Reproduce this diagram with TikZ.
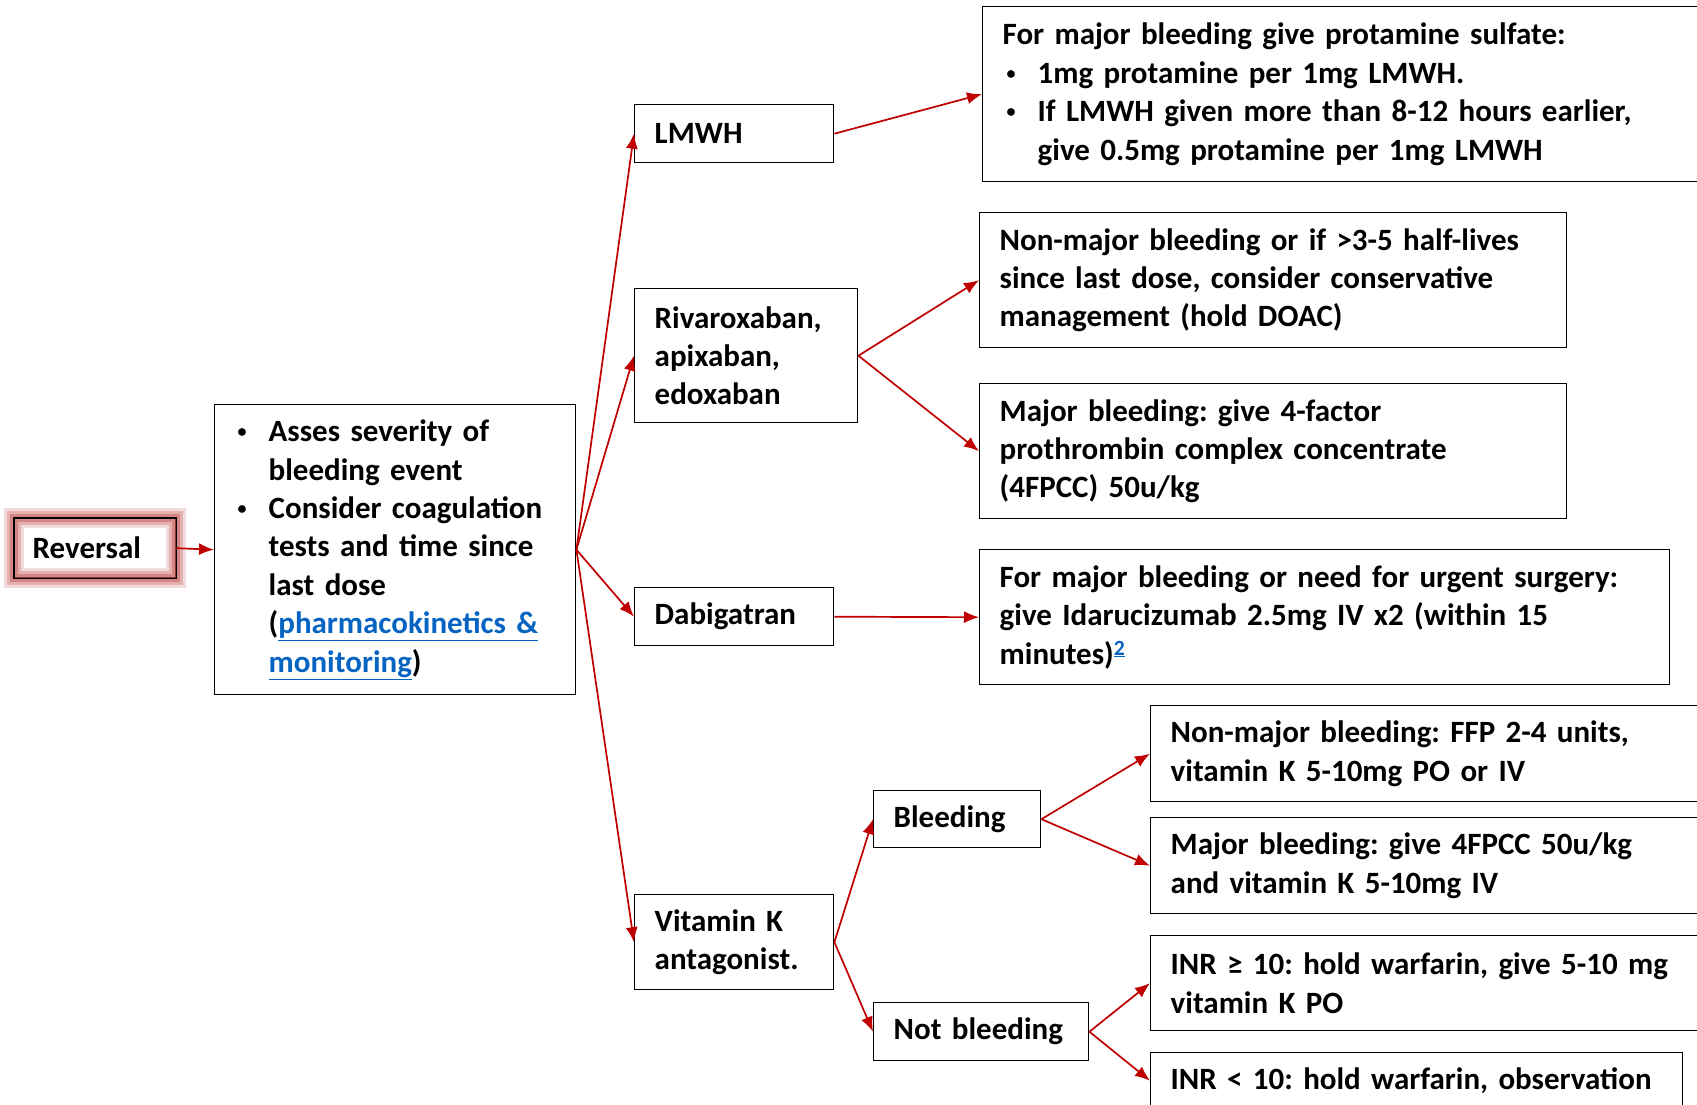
\documentclass[tikz,border=0pt]{standalone}
\usepackage{fontspec}
\setmainfont{Carlito}
\usetikzlibrary{positioning}
\usetikzlibrary{arrows.meta}
\usepackage{xcolor}
\definecolor{arrowred}{HTML}{C00000}
\definecolor{linkblue}{HTML}{0563C1}
\definecolor{glowred}{HTML}{C0504D}
\newcommand{\bul}[1][4pt]{\hspace*{#1}\makebox[31pt][l]{\raisebox{4pt}{\fontsize{18}{18}\selectfont\textbullet}}}
\newcommand{\ind}[1][35pt]{\hspace*{#1}}
\newcommand{\lnk}[1]{\textcolor{linkblue}{\underline{#1}}}

\begin{document}
\frenchspacing
\hyphenpenalty=10000
\exhyphenpenalty=10000
\begin{tikzpicture}[x=1pt, y=-1pt,
  box/.style={draw=black, line width=1.4pt, anchor=north west, align=left,
    inner xsep=20pt, inner ysep=0pt, font=\fontsize{31}{38.4}\selectfont\bfseries},
  arr/.style={draw=arrowred, line width=1.7pt, -{Latex[length=15pt,width=12pt]}}]

\clip (0,0) rectangle (1697,1105);

% first column
\node[box, inner xsep=18pt, text width=125pt, minimum height=59pt] (rev) at (14,518) {Reversal};
\foreach \w/\o in {20pt/0.2, 14pt/0.3, 8pt/0.45}
  \draw[glowred, line width=\w, opacity=\o] (rev.north west) rectangle (rev.south east);
\draw[black, line width=1.4pt] (rev.north west) rectangle (rev.south east);

\node[box, inner xsep=8pt, text width=345pt, minimum height=290pt] (asses) at (214,404)
  {\bul[15pt]Asses severity of\\ \ind[46pt]bleeding event\\
   \bul[15pt]Consider coagulation\\ \ind[46pt]tests and time since\\
   \ind[46pt]last dose\\ \ind[46pt](\lnk{pharmacokinetics \&}\\
   \ind[46pt]\lnk{monitoring})};

% drugs
\node[box, text width=159pt, minimum height=58pt] (lmwh) at (634,104) {LMWH};
\node[box, text width=183pt, minimum height=134pt] (riva) at (634,288)
  {Rivaroxaban,\\ apixaban,\\ edoxaban};
\node[box, text width=159pt, minimum height=58pt] (dabi) at (634,587) {Dabigatran};
\node[box, text width=159pt, minimum height=95pt] (vka) at (634,894)
  {Vitamin K\\ antagonist.};

\node[box, text width=127pt, minimum height=57pt] (bleed) at (873,790) {Bleeding};
\node[box, text width=175pt, minimum height=58pt] (notb) at (873,1002) {Not bleeding};

% actions
\node[box, text width=700pt, minimum height=175pt] (prot) at (982,6)
  {For major bleeding give protamine sulfate:\\
   \bul 1mg protamine per 1mg LMWH.\\
   \bul If LMWH given more than 8-12 hours earlier,\\
   \ind give 0.5mg protamine per 1mg LMWH};
\node[box, text width=547pt, minimum height=135pt] (doac) at (979,212)
  {Non-major bleeding or if >3-5 half-lives\\ since last dose, consider conservative\\
   management (hold DOAC)};
\node[box, text width=547pt, minimum height=135pt] (fpcc) at (979,383)
  {Major bleeding: give 4-factor\\ prothrombin complex concentrate\\ (4FPCC) 50u/kg};
\node[box, text width=650pt, minimum height=135pt] (idar) at (979,549)
  {For major bleeding or need for urgent surgery:\\
   give Idarucizumab 2.5mg IV x2 (within 15\\ minutes)\textsuperscript{\lnk{2}}};

\node[box, text width=530pt, minimum height=96pt] (ffp) at (1150,705)
  {Non-major bleeding: FFP 2-4 units,\\ vitamin K 5-10mg PO or IV};
\node[box, text width=530pt, minimum height=96pt] (maj) at (1150,817)
  {Major bleeding: give 4FPCC 50u/kg\\ and vitamin K 5-10mg IV};
\node[box, text width=530pt, minimum height=95pt] (inrhi) at (1150,935)
  {INR ≥ 10: hold warfarin, give 5-10 mg\\ vitamin K PO};
\node[box, text width=492pt, minimum height=56pt] (inrlo) at (1150,1052)
  {INR < 10: hold warfarin, observation};

% arrows
\draw[arr] (rev.east) -- (asses.west);
\draw[arr] (asses.east) -- (lmwh.west);
\draw[arr] (asses.east) -- (riva.west);
\draw[arr] (asses.east) -- (dabi.west);
\draw[arr] (asses.east) -- (vka.west);

\draw[arr] (lmwh.east) -- (prot.west);
\draw[arr] (riva.east) -- (doac.west);
\draw[arr] (riva.east) -- (fpcc.west);
\draw[arr] (dabi.east) -- (idar.west);
\draw[arr] (vka.east) -- (bleed.west);
\draw[arr] (vka.east) -- (notb.west);

\draw[arr] (bleed.east) -- (ffp.west);
\draw[arr] (bleed.east) -- (maj.west);
\draw[arr] (notb.east) -- (inrhi.west);
\draw[arr] (notb.east) -- (inrlo.west);

\end{tikzpicture}
\end{document}
